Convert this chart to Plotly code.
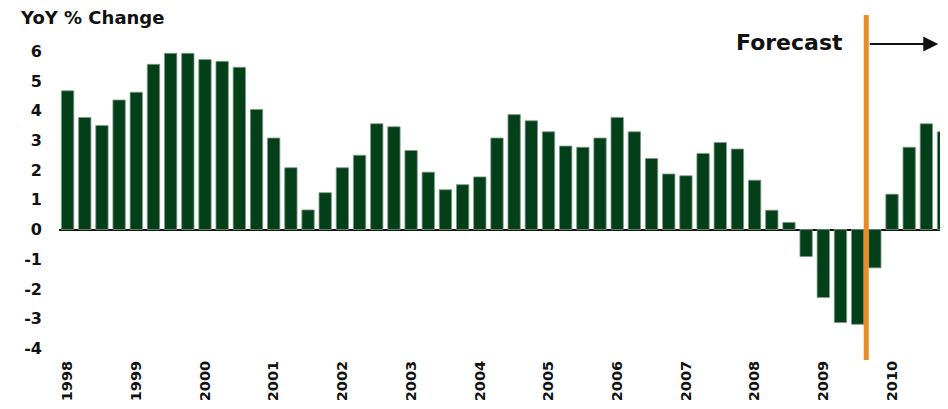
import plotly.graph_objects as go

years = list(range(1998, 2011))
quarters = [f"{y}Q{q}" for y in years for q in range(1, 5)]
yoy_change = [
    4.67, 3.77, 3.50, 4.36,
    4.62, 5.56, 5.93, 5.93,
    5.72, 5.66, 5.46, 4.04,
    3.08, 2.08, 0.66, 1.24,
    2.08, 2.50, 3.56, 3.46,
    2.66, 1.93, 1.34, 1.51,
    1.77, 3.08, 3.87, 3.66,
    3.29, 2.81, 2.77, 3.08,
    3.77, 3.29, 2.39, 1.87,
    1.81, 2.56, 2.93, 2.71,
    1.66, 0.65, 0.24, -0.91,
    -2.29, -3.13, -3.19, -1.29,
    1.19, 2.77, 3.56, 3.29,
]
x_tickvals = [f"{y}Q1" for y in years]
x_ticktext = [str(y) for y in years]
y_tickvals = [-4, -3, -2, -1, 0, 1, 2, 3, 4, 5, 6]
y_ticktext = ["-4", "-3", "-2", "-1", "0", "1", "2", "3", "4", "5", "6"]
forecast_start = 46.5  # between 2009Q3 and 2009Q4

FONT = "DejaVu Sans"
TXT = "#111111"

fig = go.Figure()
fig.add_trace(go.Bar(
    x=quarters, y=yoy_change,
    marker=dict(color="#03401A", line=dict(color="#7E9C84", width=0.8)),
    width=0.72,
))

fig.update_layout(
    width=940, height=393,
    margin=dict(l=51, r=0, t=7, b=41),
    plot_bgcolor="white", paper_bgcolor="white",
    showlegend=False,
    xaxis=dict(
        type="category",
        range=[-0.5, 51.26],
        tickmode="array", tickvals=x_tickvals, ticktext=x_ticktext,
        tickangle=-90,
        tickfont=dict(family=FONT, size=14.5, color=TXT, weight="bold"),
        showgrid=False, showline=False, zeroline=False, ticks="",
        ticklabelstandoff=-3,
    ),
    yaxis=dict(
        range=[-4.39, 7.22],
        tickmode="array", tickvals=y_tickvals, ticktext=y_ticktext,
        tickfont=dict(family=FONT, size=16, color=TXT, weight="bold"),
        showgrid=False, showline=False,
        zeroline=True, zerolinecolor="#111111", zerolinewidth=1.6,
        ticks="", ticklabelstandoff=16,
    ),
)

fig.add_shape(type="line", xref="x", yref="paper",
              x0=forecast_start, x1=forecast_start, y0=0, y1=1,
              line=dict(color="#E88B2B", width=5), layer="above")

fig.add_annotation(xref="paper", yref="paper", x=-0.0465, y=0.994,
                   xanchor="left", yanchor="middle", showarrow=False,
                   text="YoY % Change",
                   font=dict(family=FONT, size=18, color=TXT, weight="bold"))

fig.add_annotation(xref="x", yref="paper", x=forecast_start, y=0.919,
                   xanchor="right", yanchor="middle", xshift=-21, showarrow=False,
                   text="Forecast",
                   font=dict(family=FONT, size=22, color=TXT, weight="bold"))

fig.add_annotation(xref="paper", yref="paper", x=0.989, y=0.916,
                   ax=-70, ay=0, axref="pixel", ayref="pixel",
                   text="", showarrow=True,
                   arrowhead=2, arrowsize=1.5, arrowwidth=2, arrowcolor=TXT)

fig.write_html("out.html")
